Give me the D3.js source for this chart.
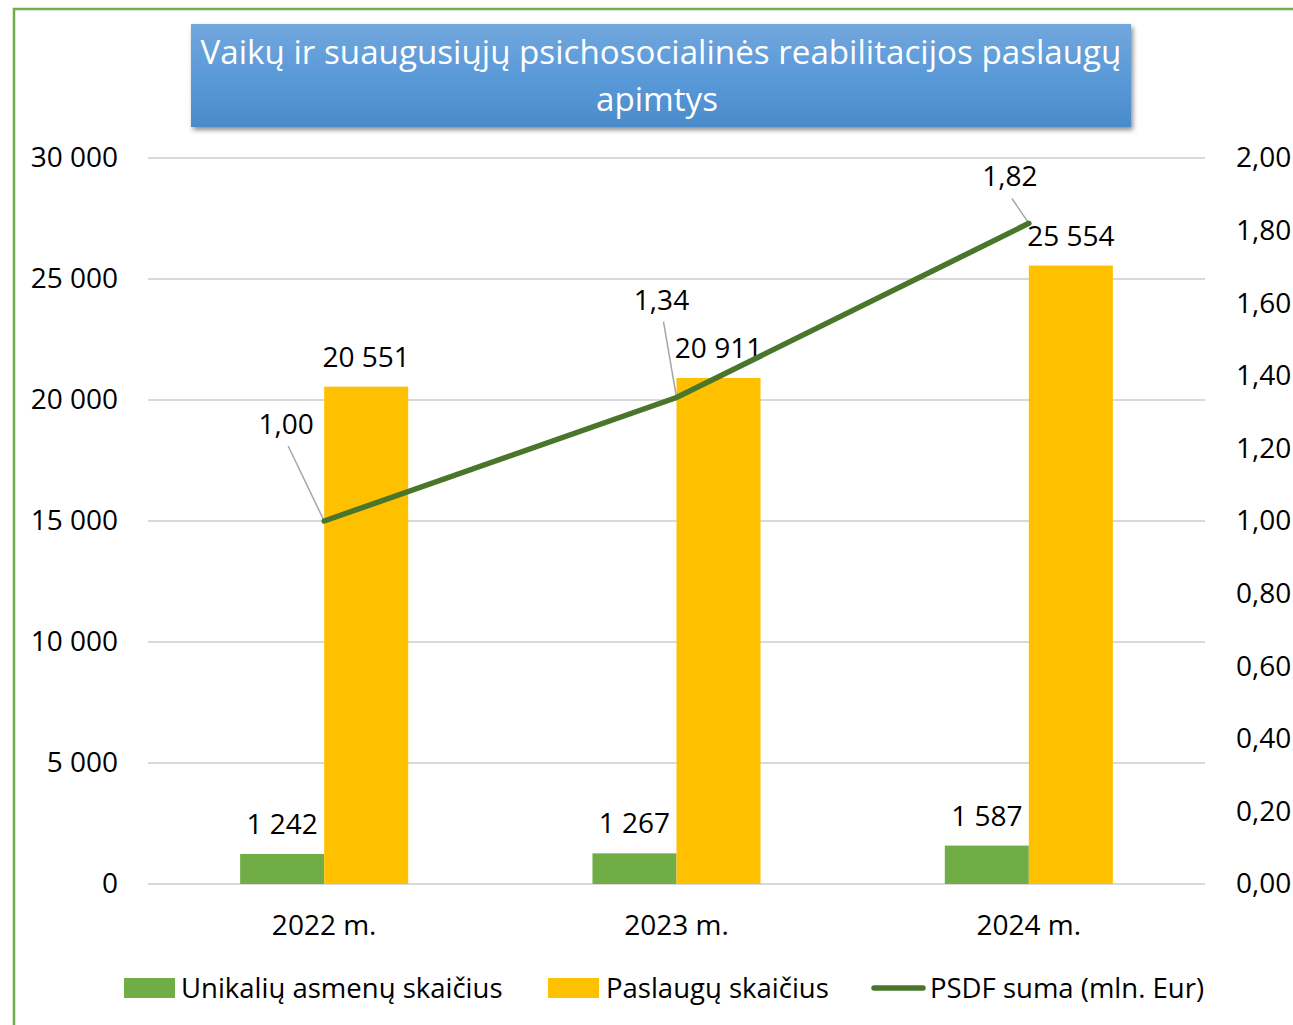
<html>
<head>
<meta charset="utf-8">
<script src="https://d3js.org/d3.v7.min.js"></script>
<style>
    body, html {
        margin: 0;
        padding: 0;
        background: #fff;
        font-family: "Open Sans", sans-serif;
    }
</style>
</head>
<body>
<div id="chart"></div>
<script>

// data
var years = ["2022 m.", "2023 m.", "2024 m."];
var uniquePersons = [1242, 1267, 1587];
var services = [20551, 20911, 25554];
var psdf = [1.00, 1.34, 1.82];
var leftTicks = [0, 5000, 10000, 15000, 20000, 25000, 30000];
var rightTicks = [0, 0.2, 0.4, 0.6, 0.8, 1.0, 1.2, 1.4, 1.6, 1.8, 2.0];
var seriesNames = ["Unikalių asmenų skaičius", "Paslaugų skaičius", "PSDF suma (mln. Eur)"];

var W = 1293, H = 1025;
var margin = {top: 158, bottom: 141, left: 148, right: 88};

var svg = d3.select("#chart").append("svg")
    .attr("width", W)
    .attr("height", H);

// outer frame (only left + top are visible)
svg.append("path")
    .attr("d", "M14,1025 L14,9 L1293,9")
    .attr("fill", "none")
    .attr("stroke", "#70ad47")
    .attr("stroke-width", 2.5);

var x = d3.scaleBand()
    .domain(years)
    .range([margin.left, W - margin.right])
    .padding(0);

var barsW = x.bandwidth() * 0.477;
var xs = d3.scaleBand()
    .domain([0, 1])
    .range([(x.bandwidth() - barsW) / 2, (x.bandwidth() + barsW) / 2]);

var y = d3.scaleLinear().domain([0, 30000]).range([H - margin.bottom, margin.top]);
var y2 = d3.scaleLinear().domain([0, 2]).range([H - margin.bottom, margin.top]);

var fmtInt = function(v) { return d3.format(",")(v).replace(/,/g, " "); };
var fmtDec = function(v) { return d3.format(".2f")(v).replace(".", ","); };

// gridlines
svg.append("g")
    .selectAll("line")
    .data(leftTicks)
    .enter()
    .append("line")
    .attr("x1", margin.left)
    .attr("x2", W - margin.right)
    .attr("y1", function(d) { return y(d); })
    .attr("y2", function(d) { return y(d); })
    .attr("stroke", "#d9d9d9")
    .attr("stroke-width", 2);

// left axis
var yAxis = svg.append("g")
    .attr("transform", "translate(" + (margin.left - 30) + ",0)")
    .call(d3.axisLeft(y).tickValues(leftTicks).tickFormat(fmtInt).tickSize(0).tickPadding(0));
yAxis.select(".domain").remove();
yAxis.selectAll("text")
    .attr("font-family", "Open Sans")
    .attr("font-size", 28)
    .attr("fill", "#000");

// right axis
var y2Axis = svg.append("g")
    .attr("transform", "translate(" + (W - margin.right + 31) + ",0)")
    .call(d3.axisRight(y2).tickValues(rightTicks).tickFormat(fmtDec).tickSize(0).tickPadding(0));
y2Axis.select(".domain").remove();
y2Axis.selectAll("text")
    .attr("font-family", "Open Sans")
    .attr("font-size", 28)
    .attr("fill", "#000");

// x axis labels
var xAxis = svg.append("g")
    .attr("transform", "translate(0," + (H - margin.bottom + 31) + ")")
    .call(d3.axisBottom(x).tickSize(0).tickPadding(0));
xAxis.select(".domain").remove();
xAxis.selectAll("text")
    .attr("font-family", "Open Sans")
    .attr("font-size", 28)
    .attr("fill", "#000");

// baseline
svg.append("line")
    .attr("x1", margin.left).attr("x2", W - margin.right)
    .attr("y1", y(0)).attr("y2", y(0))
    .attr("stroke", "#d9d9d9").attr("stroke-width", 2);

var barColors = ["#70ad47", "#ffc000"];
var barSeries = [uniquePersons, services];

barSeries.forEach(function(vals, s) {
    svg.append("g")
        .selectAll("rect")
        .data(vals)
        .enter()
        .append("rect")
        .attr("x", function(d, i) { return x(years[i]) + xs(s); })
        .attr("y", function(d) { return y(d); })
        .attr("width", xs.bandwidth())
        .attr("height", function(d) { return y(0) - y(d); })
        .attr("fill", barColors[s]);

    svg.append("g")
        .selectAll("text")
        .data(vals)
        .enter()
        .append("text")
        .attr("x", function(d, i) { return x(years[i]) + xs(s) + xs.bandwidth() / 2; })
        .attr("y", function(d) { return y(d) - 20; })
        .attr("text-anchor", "middle")
        .attr("font-size", 28)
        .attr("fill", "#000")
        .text(fmtInt);
});

// line labels with leader lines (label offsets from the point)
var lblOff = [[-38, -97], [-15, -98], [-19, -47]];
var cx = function(i) { return x(years[i]) + x.bandwidth() / 2; };

svg.append("g")
    .selectAll("line")
    .data(psdf)
    .enter()
    .append("line")
    .attr("x1", function(d, i) { return cx(i) + lblOff[i][0] + 2; })
    .attr("y1", function(d, i) { return y2(d) + lblOff[i][1] + 22; })
    .attr("x2", function(d, i) { return cx(i); })
    .attr("y2", function(d) { return y2(d); })
    .attr("stroke", "#a6a6a6")
    .attr("stroke-width", 1.5);

// line
var line = d3.line()
    .x(function(d, i) { return cx(i); })
    .y(function(d) { return y2(d); });

svg.append("path")
    .datum(psdf)
    .attr("d", line)
    .attr("fill", "none")
    .attr("stroke", "#4a762c")
    .attr("stroke-width", 5.5)
    .attr("stroke-linecap", "round");

svg.append("g")
    .selectAll("text")
    .data(psdf)
    .enter()
    .append("text")
    .attr("x", function(d, i) { return cx(i) + lblOff[i][0]; })
    .attr("y", function(d, i) { return y2(d) + lblOff[i][1] + 10; })
    .attr("text-anchor", "middle")
    .attr("font-size", 28)
    .attr("fill", "#000")
    .text(fmtDec);

// title box
var defs = svg.append("defs");
var grad = defs.append("linearGradient")
    .attr("id", "tgrad").attr("x1", 0).attr("y1", 0).attr("x2", 0).attr("y2", 1);
grad.append("stop").attr("offset", "0%").attr("stop-color", "#72a7dc");
grad.append("stop").attr("offset", "50%").attr("stop-color", "#5a9ad9");
grad.append("stop").attr("offset", "100%").attr("stop-color", "#4a8bcb");
var shadow = defs.append("filter").attr("id", "shadow")
    .attr("x", "-5%").attr("y", "-10%").attr("width", "110%").attr("height", "130%");
shadow.append("feDropShadow")
    .attr("dx", 2).attr("dy", 3).attr("stdDeviation", 2.5)
    .attr("flood-color", "#000").attr("flood-opacity", 0.45);

svg.append("rect")
    .attr("x", 191).attr("y", 24)
    .attr("width", 940).attr("height", 103)
    .attr("fill", "url(#tgrad)")
    .attr("filter", "url(#shadow)");

var t1 = svg.append("text")
    .attr("x", 661).attr("y", 64)
    .attr("text-anchor", "middle")
    .attr("font-size", 31)
    .attr("fill", "#fff")
    .text("Vaikų ir suaugusiųjų psichosocialinės reabilitacijos paslaugų");
var fs = 31 * 921 / t1.node().getComputedTextLength();
t1.attr("font-size", fs);
svg.append("text")
    .attr("x", 657).attr("y", 111)
    .attr("text-anchor", "middle")
    .attr("font-size", fs)
    .attr("fill", "#fff")
    .text("apimtys");

// legend
var legend = svg.append("g").attr("transform", "translate(0,988)");
var legX = [124, 548, 872];
var textX = [181, 606, 930];
seriesNames.forEach(function(name, i) {
    if (i < 2) {
        legend.append("rect")
            .attr("x", legX[i]).attr("y", -10)
            .attr("width", 51).attr("height", 20)
            .attr("fill", barColors[i]);
    } else {
        legend.append("line")
            .attr("x1", legX[i] + 2).attr("x2", legX[i] + 51)
            .attr("y1", 0).attr("y2", 0)
            .attr("stroke", "#4a762c").attr("stroke-width", 5.5)
            .attr("stroke-linecap", "round");
    }
    legend.append("text")
        .attr("x", textX[i]).attr("y", 10)
        .attr("font-size", 27.5)
        .attr("fill", "#000")
        .text(name);
});

</script>
</body>
</html>
